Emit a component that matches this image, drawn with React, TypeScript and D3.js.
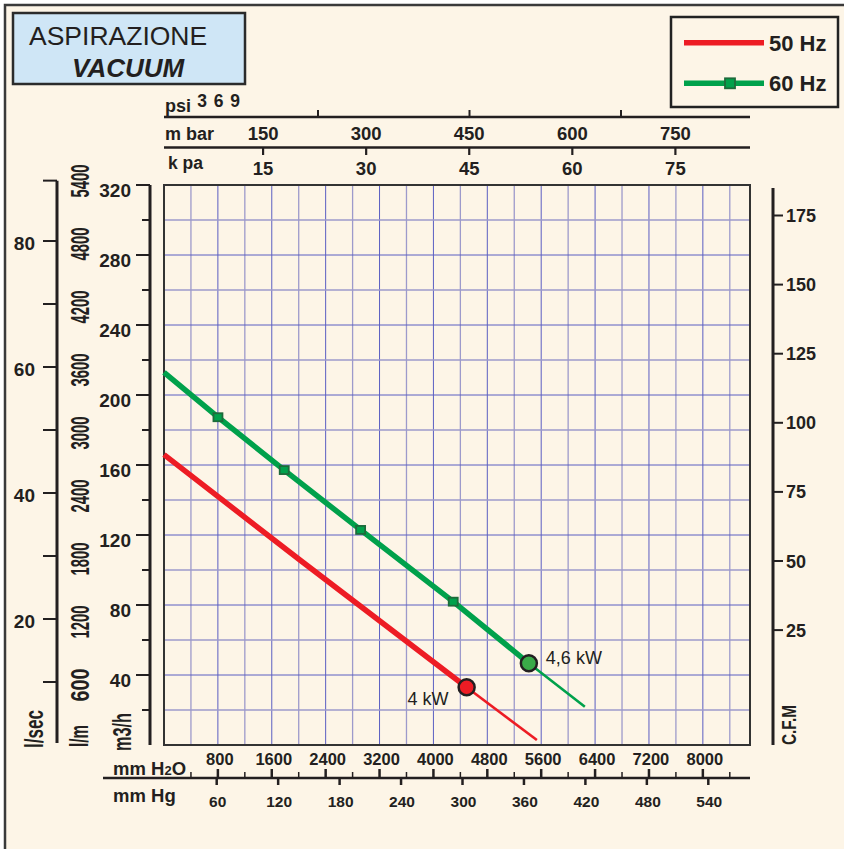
import React from "react";
import * as d3 from "d3";

const W = 844;
const H = 849;

// ---- data ----
// 50 Hz curve: vacuum (mm H2O) vs flow (m3/h)
const hz50Pressure = [0, 2018, 4493, 5536];
const hz50Flow = [165.9, 105.7, 33, 2.9];
const hz50RatedIndex = 2;
const hz50Power = "4 kW";
// 60 Hz curve
const hz60Pressure = [0, 801, 1785, 2919, 4294, 5417, 6248];
const hz60Flow = [212.9, 187.3, 157.1, 122.9, 81.9, 46.7, 21.9];
const hz60RatedIndex = 5;
const hz60MarkerIndex = [1, 2, 3, 4];
const hz60Power = "4,6 kW";

const legendNames = ["50 Hz", "60 Hz"];

// axes
const m3hTicks = d3.range(20, 321, 20);
const m3hLabels = [40, 80, 120, 160, 200, 240, 280, 320];
const lsecTicks = [10, 20, 30, 40, 50, 60, 70, 80];
const lsecLabels = [20, 40, 60, 80];
const lpmLabels = [600, 1200, 1800, 2400, 3000, 3600, 4200, 4800, 5400];
const cfmTicks = [25, 50, 75, 100, 125, 150, 175];
const mmH2OTicks = d3.range(400, 8401, 400);
const mmH2OLabels = [800, 1600, 2400, 3200, 4000, 4800, 5600, 6400, 7200, 8000];
const mmHgTicks = [60, 120, 180, 240, 300, 360, 420, 480, 540];
const mbarTicks = [150, 300, 450, 600, 750];
const kpaLabels = [15, 30, 45, 60, 75];
const psiTicks = [3, 6, 9];
const psiLabels = ["3", "6", "9"];

// ---- style ----
const BG = "#fdf5e7";
const INK = "#231f20";
const RED = "#ed1c24";
const GREEN = "#00a14b";
const GREEN_DARK = "#1d6b3b";
const GREEN_DOT = "#3aaa48";
const GRID_MAJOR = "#5a5ec2";
const GRID_MINOR = "#9d9acb";
const FONT = "'Liberation Sans', Arial, sans-serif";

const PL = 164, PR = 750, PT = 185, PB = 745;

const x = d3.scaleLinear().domain([0, 8700]).range([PL, PR]);
const y = d3.scaleLinear().domain([0, 320]).range([PB, PT]);
const cfmY = d3.scaleLinear().domain([0, 175]).range([699.2, 215.5]);
const mbarX = d3.scaleLinear().domain([0, 750]).range([160, 675.4]);
const psiX = d3.scaleLinear().domain([0, 9]).range([166.5, 621]);
const mmHgX = d3.scaleLinear().domain([60, 540]).range([216.7, 708.3]);

const lineGen = d3
  .line<[number, number]>()
  .x((d) => x(d[0]))
  .y((d) => y(d[1]));

function pts(p: number[], f: number[]): [number, number][] {
  return p.map((v, i) => [v, f[i]] as [number, number]);
}

function Curve({ p, f, rated, color, dot, label, labelSide }: any) {
  const all = pts(p, f);
  const thick = all.slice(0, rated + 1);
  const thin = all.slice(rated);
  const cx = x(p[rated]);
  const cy = y(f[rated]);
  return (
    <g>
      <path d={lineGen(thick) || ""} fill="none" stroke={color} strokeWidth={5.5} strokeLinecap="butt" />
      <path d={lineGen(thin) || ""} fill="none" stroke={color} strokeWidth={2.6} />
      <circle cx={cx} cy={cy} r={8} fill={dot} stroke={INK} strokeWidth={2.5} />
      {labelSide === "right" ? (
        <text x={cx + 17} y={cy + 1} fontFamily={FONT} fontSize={18} fill={INK}>
          {label}
        </text>
      ) : (
        <text x={cx - 18} y={cy + 17.5} fontFamily={FONT} fontSize={18} fill={INK} textAnchor="end">
          {label}
        </text>
      )}
    </g>
  );
}

function Rot({ cx, cy, text, size, len, weight = "bold" }: any) {
  return (
    <text
      transform={`translate(${cx},${cy}) rotate(-90)`}
      textAnchor="middle"
      dy="0.36em"
      fontFamily={FONT}
      fontWeight={weight}
      fontSize={size}
      fill={INK}
      textLength={len}
      lengthAdjust="spacingAndGlyphs"
    >
      {text}
    </text>
  );
}

export default function App() {
  const txt = { fontFamily: FONT, fontWeight: "bold" as const, fill: INK };
  return (
    <div style={{ position: "absolute", left: 0, top: 0 }}>
      <svg width={W} height={H} style={{ display: "block", background: "#ffffff" }}>
        {/* frame */}
        <rect x={5} y={5} width={W + 20} height={H + 20} fill={BG} stroke="#3a3a3a" strokeWidth={2.5} />

        {/* title */}
        <rect x={13} y={13} width={232} height={71} fill="#cfe6f6" stroke="#2b2b2b" strokeWidth={2.5} />
        <text x={29} y={45} fontFamily={FONT} fontSize={26.5} fill={INK}>
          ASPIRAZIONE
        </text>
        <text x={72} y={77} fontFamily={FONT} fontSize={26} fontWeight="bold" fontStyle="italic" fill={INK}>
          VACUUM
        </text>

        {/* legend */}
        <rect x={671} y={17} width={167} height={90} fill={BG} stroke="#222" strokeWidth={2.5} />
        <line x1={684} x2={764} y1={42.7} y2={42.7} stroke={RED} strokeWidth={5.5} />
        <text x={769} y={50.5} {...txt} fontSize={22}>
          {legendNames[0]}
        </text>
        <line x1={684} x2={764} y1={83.3} y2={83.3} stroke={GREEN} strokeWidth={5.5} />
        <rect x={725} y={78.3} width={10} height={10} fill={GREEN} stroke={GREEN_DARK} strokeWidth={1.8} />
        <text x={769} y={91} {...txt} fontSize={22}>
          {legendNames[1]}
        </text>

        {/* grid */}
        {mmH2OTicks.map((v) => (
          <line
            key={"gv" + v}
            x1={x(v)}
            x2={x(v)}
            y1={PT}
            y2={PB}
            stroke={v % 800 === 0 ? GRID_MAJOR : GRID_MINOR}
            strokeWidth={v % 800 === 0 ? 1 : 1.3}
          />
        ))}
        {m3hTicks
          .filter((v) => v < 320)
          .map((v) => (
            <line
              key={"gh" + v}
              x1={PL}
              x2={PR}
              y1={y(v)}
              y2={y(v)}
              stroke={v % 40 === 0 ? GRID_MAJOR : GRID_MINOR}
              strokeWidth={v % 40 === 0 ? 1 : 1.3}
            />
          ))}
        <rect x={PL} y={PT} width={PR - PL} height={PB - PT} fill="none" stroke="#333" strokeWidth={2} />

        {/* curves */}
        <Curve p={hz50Pressure} f={hz50Flow} rated={hz50RatedIndex} color={RED} dot={RED} label={hz50Power} labelSide="left" />
        <Curve p={hz60Pressure} f={hz60Flow} rated={hz60RatedIndex} color={GREEN} dot={GREEN_DOT} label={hz60Power} labelSide="right" />
        {hz60MarkerIndex.map((i) => (
          <rect
            key={"mk" + i}
            x={x(hz60Pressure[i]) - 4.5}
            y={y(hz60Flow[i]) - 4}
            width={9}
            height={8}
            fill={GREEN}
            stroke={GREEN_DARK}
            strokeWidth={1.8}
          />
        ))}

        {/* m3/h axis */}
        <line x1={150} x2={150} y1={PT} y2={PB} stroke={INK} strokeWidth={3} />
        {m3hTicks.map((v) => (
          <line key={"mt" + v} x1={v % 40 === 0 ? 136 : 142} x2={150} y1={y(v)} y2={y(v)} stroke={INK} strokeWidth={2} />
        ))}
        {m3hLabels.map((v) => (
          <text key={"ml" + v} x={131} y={y(v) + 11.5} textAnchor="end" {...txt} fontSize={19}>
            {v}
          </text>
        ))}

        {/* l/sec + l/m axis */}
        <line x1={57} x2={57} y1={y(322.5)} y2={y(0) - 2} stroke={INK} strokeWidth={3} />
        <line x1={43} x2={57} y1={y(322.5)} y2={y(322.5)} stroke={INK} strokeWidth={2} />
        {lsecTicks.map((v) => (
          <line key={"lt" + v} x1={43} x2={57} y1={y(v * 3.6)} y2={y(v * 3.6)} stroke={INK} strokeWidth={2} />
        ))}
        {lsecLabels.map((v) => (
          <text key={"ll" + v} x={35} y={y(v * 3.6) + 8.5} textAnchor="end" {...txt} fontSize={19}>
            {v}
          </text>
        ))}
        {lpmLabels.map((v) => (
          <Rot key={"lp" + v} cx={80} cy={y(v * 0.06) + 3} text={String(v)} size={26} len={33} />
        ))}
        <Rot cx={34} cy={729} text="l/sec" size={25} len={38} />
        <Rot cx={79} cy={736} text="l/m" size={26} len={22} />
        <Rot cx={122} cy={732} text="m3/h" size={26} len={38} />

        {/* CFM axis */}
        <line x1={773} x2={773} y1={188} y2={PB} stroke={INK} strokeWidth={3} />
        {cfmTicks.map((v) => (
          <g key={"c" + v}>
            <line x1={773} x2={783} y1={cfmY(v)} y2={cfmY(v)} stroke={INK} strokeWidth={2} />
            <text x={786} y={cfmY(v) + 6.5} {...txt} fontSize={18}>
              {v}
            </text>
          </g>
        ))}
        <Rot cx={788} cy={725} text="C.F.M" size={21} len={40} />

        {/* top axes */}
        <line x1={PL} x2={PR} y1={117} y2={117} stroke={INK} strokeWidth={2.5} />
        {psiTicks.map((v) => (
          <line key={"pt" + v} x1={psiX(v)} x2={psiX(v)} y1={110} y2={117} stroke={INK} strokeWidth={2} />
        ))}
        <text x={165} y={111.5} {...txt} fontSize={18}>
          psi
        </text>
        {psiLabels.map((s, i) => (
          <text key={"pl" + s} x={202 + i * 16.5} y={106.5} textAnchor="middle" {...txt} fontSize={17.5}>
            {s}
          </text>
        ))}
        <line x1={PL} x2={PR} y1={147.5} y2={147.5} stroke={INK} strokeWidth={2.5} />
        {mbarTicks.map((v) => (
          <g key={"mb" + v}>
            <line x1={mbarX(v)} x2={mbarX(v)} y1={147.5} y2={155} stroke={INK} strokeWidth={2.2} />
            <text x={mbarX(v)} y={140} textAnchor="middle" {...txt} fontSize={18.5}>
              {v}
            </text>
          </g>
        ))}
        {kpaLabels.map((v) => (
          <text key={"kp" + v} x={mbarX(v * 10)} y={175} textAnchor="middle" {...txt} fontSize={18.5}>
            {v}
          </text>
        ))}
        <text x={165} y={140} {...txt} fontSize={18}>
          m bar
        </text>
        <text x={168} y={169} {...txt} fontSize={17.5}>
          k pa
        </text>

        {/* bottom axes */}
        <line x1={103} x2={PR} y1={778} y2={778} stroke={INK} strokeWidth={2.5} />
        {mmH2OTicks.map((v) => (
          <line
            key={"ht" + v}
            x1={x(v)}
            x2={x(v)}
            y1={v % 800 === 0 ? 769 : 772}
            y2={778}
            stroke={INK}
            strokeWidth={v % 800 === 0 ? 2.5 : 1.5}
          />
        ))}
        {mmH2OLabels.map((v) => (
          <text key={"hl" + v} x={x(v) + 2} y={765} textAnchor="middle" {...txt} fontSize={16.5}>
            {v}
          </text>
        ))}
        {mmHgTicks.map((v) => (
          <g key={"hg" + v}>
            <line x1={mmHgX(v)} x2={mmHgX(v)} y1={778} y2={785} stroke={INK} strokeWidth={2.5} />
            <text x={mmHgX(v) + 1} y={807} textAnchor="middle" {...txt} fontSize={15.5}>
              {v}
            </text>
          </g>
        ))}
        <text x={113} y={775} {...txt} fontSize={18.5}>
          mm H<tspan fontSize={13}>2</tspan>O
        </text>
        <text x={113} y={802} {...txt} fontSize={18.5}>
          mm Hg
        </text>
      </svg>
    </div>
  );
}
